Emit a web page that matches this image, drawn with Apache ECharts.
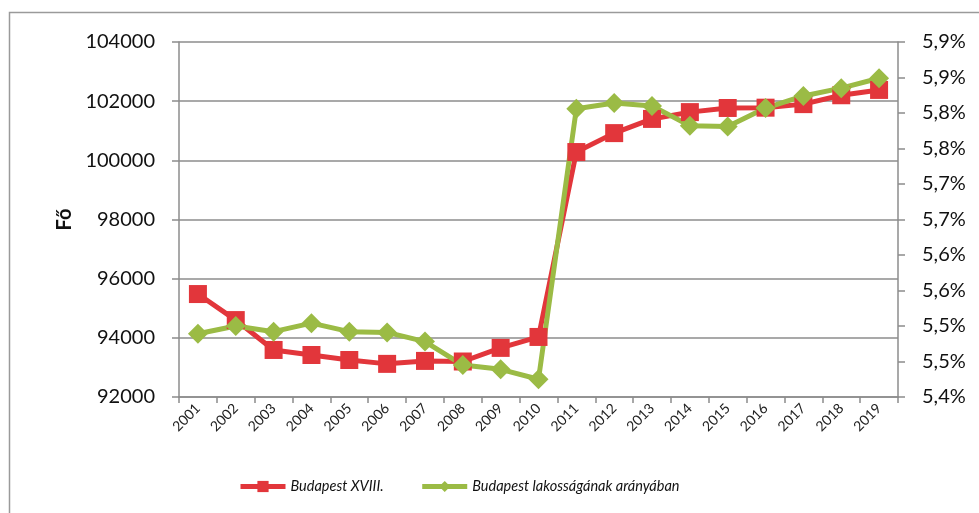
<!DOCTYPE html>
<html>
<head>
<meta charset="utf-8">
<script src="https://cdn.jsdelivr.net/npm/echarts@6/dist/echarts.min.js"></script>
<style>
  html, body { margin: 0; padding: 0; background: #fff; }
  #chart { width: 979px; height: 513px; }
</style>
</head>
<body>
<div id="chart"></div>
<script>
// évek
var years = ['2001','2002','2003','2004','2005','2006','2007','2008','2009','2010',
             '2011','2012','2013','2014','2015','2016','2017','2018','2019'];
// lakosság (fő) - bal tengely
var lakossag = [95480, 94600, 93590, 93420, 93250, 93120, 93220, 93200, 93660, 94030,
                100280, 100920, 101400, 101630, 101770, 101780, 101900, 102200, 102380];
// Budapest lakosságának arányában (%) - jobb tengely
var arany = [5.489, 5.500, 5.492, 5.504, 5.492, 5.491, 5.478, 5.445, 5.439, 5.425,
             5.806, 5.814, 5.810, 5.782, 5.781, 5.807, 5.824, 5.835, 5.849];

var red = '#E2363B';
var green = '#9BBB45';
var axisGray = '#8C8C8C';
var font = 'Lato';

var chart = echarts.init(document.getElementById('chart'));

var option = {
  backgroundColor: '#ffffff',
  animation: false,
  graphic: [{
    type: 'rect',
    shape: { x: 9.5, y: 12.5, width: 1000, height: 600 },
    style: { fill: 'none', stroke: '#9a9a9a', lineWidth: 1.5 }
  }],
  grid: { left: 179, right: 81, top: 42, bottom: 116 },
  legend: {
    bottom: 14,
    left: 233,
    itemWidth: 45,
    itemHeight: 14,
    itemGap: 36,
    lineStyle: { width: 5 },
    textStyle: { fontFamily: font, fontStyle: 'italic', fontSize: 14.5, color: '#111' },
    data: ['Budapest XVIII.', 'Budapest lakosságának arányában']
  },
  xAxis: {
    type: 'category',
    data: years,
    boundaryGap: true,
    axisLine: { lineStyle: { color: axisGray, width: 1.5 } },
    axisTick: { show: true, length: 6, lineStyle: { color: axisGray, width: 1.5 } },
    axisLabel: { rotate: 45, fontFamily: font, fontSize: 14, color: '#222', margin: 9 }
  },
  yAxis: [{
    type: 'value',
    min: 92000, max: 104000, interval: 2000,
    name: 'Fő',
    nameLocation: 'middle',
    nameGap: 102,
    nameRotate: 90,
    nameTextStyle: { fontFamily: font, fontWeight: 'bold', fontSize: 20, color: '#111' },
    axisLine: { show: true, lineStyle: { color: axisGray, width: 1.5 } },
    axisTick: { show: true, length: 7, lineStyle: { color: axisGray, width: 1.5 } },
    axisLabel: {
      fontFamily: font, fontSize: 20, color: '#111', margin: 24,
      formatter: function (v) { return String(v); }
    },
    splitLine: { lineStyle: { color: axisGray, width: 1.5 } }
  }, {
    type: 'value',
    min: 5.4, max: 5.9, interval: 0.05,
    position: 'right',
    axisLine: { show: true, lineStyle: { color: axisGray, width: 1.5 } },
    axisTick: { show: true, length: 7, lineStyle: { color: axisGray, width: 1.5 } },
    axisLabel: {
      fontFamily: font, fontSize: 20, color: '#111', margin: 24,
      formatter: function (v) {
        return (Math.round(v * 10 + 1e-6) / 10).toFixed(1).replace('.', ',') + '%';
      }
    },
    splitLine: { show: false }
  }],
  series: [{
    name: 'Budapest XVIII.',
    type: 'line',
    yAxisIndex: 0,
    data: lakossag,
    symbol: 'rect',
    symbolSize: 18,
    itemStyle: { color: red },
    lineStyle: { color: red, width: 5 }
  }, {
    name: 'Budapest lakosságának arányában',
    type: 'line',
    yAxisIndex: 1,
    data: arany,
    symbol: 'diamond',
    symbolSize: 20,
    itemStyle: { color: green },
    lineStyle: { color: green, width: 5 }
  }]
};

chart.setOption(option);
</script>
</body>
</html>
